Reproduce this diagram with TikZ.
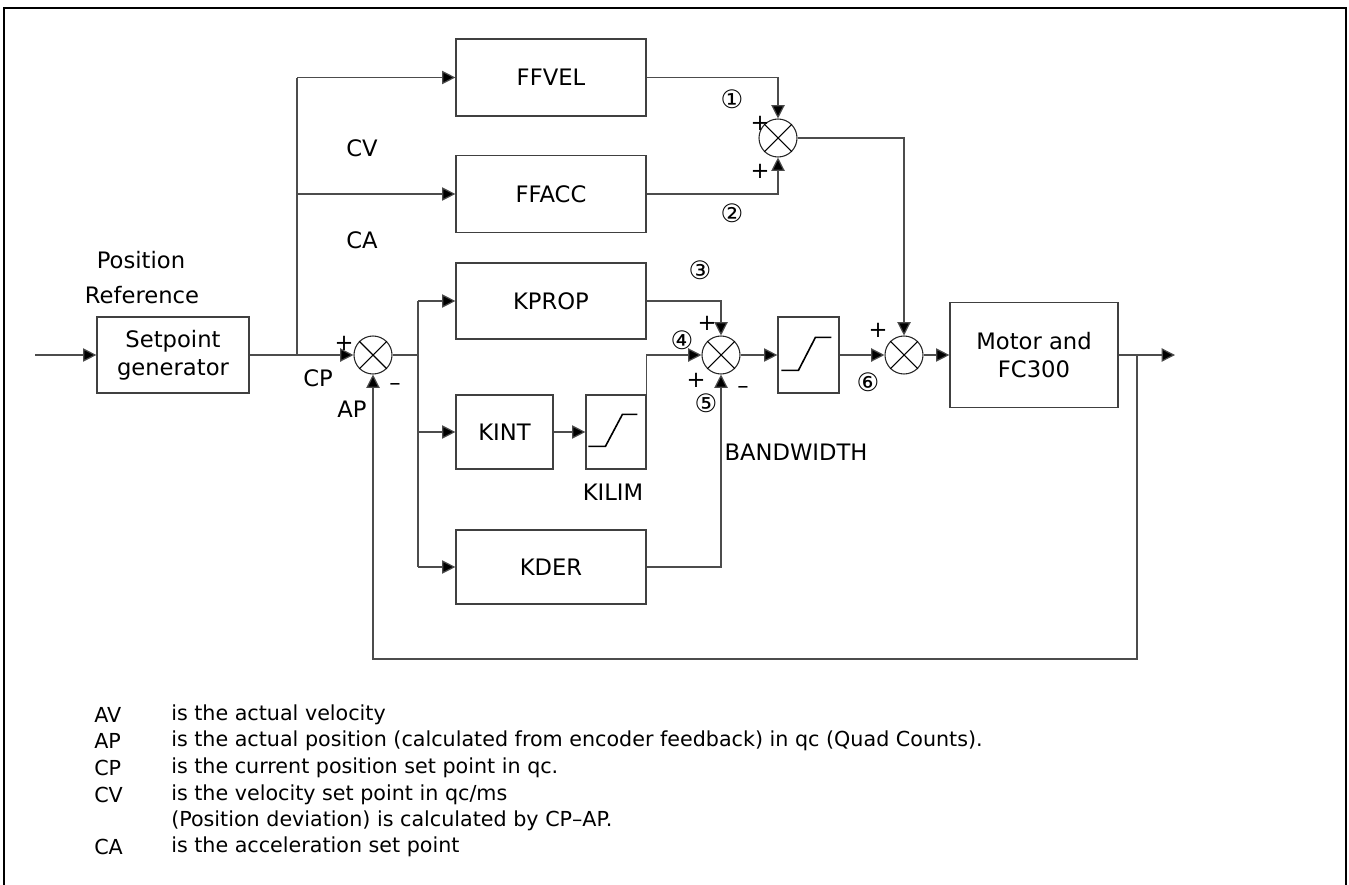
\documentclass[tikz,border=0pt]{standalone}
\usepackage{fontspec}
\setmainfont{DejaVu Sans}
\usetikzlibrary{arrows.meta}
\begin{document}
\begin{tikzpicture}[x=0.75pt,y=-0.75pt,
  ln/.style={draw=black!70, line width=0.9pt},
  arr/.style={ln, -{Triangle[length=10pt,width=10pt,fill=black]}},
  box/.style={draw=black!75, line width=0.9pt, inner sep=0pt, align=center, font=\fontsize{17}{21}\selectfont},
  sum/.style={circle, draw=black!85, line width=0.8pt, minimum size=28.5pt, inner sep=0pt},
  lbl/.style={font=\fontsize{17}{21}\selectfont, inner sep=0pt},
  num/.style={font=\fontsize{19}{22}\selectfont, inner sep=0pt},
  leg/.style={font=\fontsize{15.5}{18}\selectfont, anchor=west, inner sep=0pt}
]
\useasboundingbox (0,0) rectangle (1349,885);
\draw[line width=1pt] (4,885) -- (4,8) -- (1346,8) -- (1346,885);

% blocks
\node[box, minimum width=114pt, minimum height=57pt] (SG) at (173,355) {Setpoint\\generator};
\node[box, minimum width=142.5pt, minimum height=57.75pt] (FFVEL) at (551,77.5) {FFVEL};
\node[box, minimum width=142.5pt, minimum height=57.75pt] (FFACC) at (551,194) {FFACC};
\node[box, minimum width=142.5pt, minimum height=57pt] (KPROP) at (551,301) {KPROP};
\node[box, minimum width=72.75pt, minimum height=55.5pt] (KINT) at (504.5,432) {KINT};
\node[box, minimum width=45pt, minimum height=55.5pt] (KILIM) at (616,432) {};
\node[box, minimum width=142.5pt, minimum height=55.5pt] (KDER) at (551,567) {KDER};
\node[box, minimum width=45.75pt, minimum height=57pt] (L2) at (808.5,355) {};
\node[box, minimum width=126pt, minimum height=78.75pt] (MOT) at (1034,355) {Motor and\\FC300};

% limiter curves
\draw[line width=1.2pt] ([shift={(3,52)}]KILIM.north west) -- ++(17,0) -- ++(17,-32) -- ++(15,0);
\draw[line width=1.2pt] ([shift={(4,54)}]L2.north west) -- ++(17,0) -- ++(17,-33) -- ++(16,0);

% summing junctions
\foreach \n/\x/\y in {S1/778/138, S2/373/355, S3/721/355, S4/904/355}{
  \node[sum] (\n) at (\x,\y) {};
  \draw[line width=0.8pt] (\n.north west) -- (\n.south east) (\n.north east) -- (\n.south west);
}

% coordinates
\coordinate (in) at (35,355);
\coordinate (split) at (297,355);
\coordinate (topv) at (297,77.5);
\coordinate (midv) at (297,194);
\coordinate (b1) at (418,301);
\coordinate (b2) at (418,432);
\coordinate (b3) at (418,567);
\coordinate (b0) at (418,355);
\coordinate (out) at (1175,355);
\coordinate (tap) at (1137,355);
\coordinate (fb) at (1137,659);

% connectors
\draw[arr] (in) -- (SG.west);
\draw[ln] (SG.east) -- (split);
\draw[ln] (split) -- (topv);
\draw[arr] (topv) -- (FFVEL.west);
\draw[arr] (midv) -- (FFACC.west);
\draw[arr] (split) -- (S2.west);
\draw[arr] (FFVEL.east) -| (S1.north);
\draw[arr] (FFACC.east) -| (S1.south);
\draw[arr] (S1.east) -| (S4.north);
\draw[ln] (S2.east) -- (b0);
\draw[ln] (b1) -- (b3);
\draw[arr] (b1) -- (KPROP.west);
\draw[arr] (b2) -- (KINT.west);
\draw[arr] (b3) -- (KDER.west);
\draw[arr] (KINT.east) -- (KILIM.west);
\draw[arr] (KPROP.east) -| (S3.north);
\draw[arr] (KILIM.north east) |- (S3.west);
\draw[arr] (KDER.east) -| (S3.south);
\draw[arr] (S3.east) -- (L2.west);
\draw[arr] (L2.east) -- (S4.west);
\draw[arr] (S4.east) -- (MOT.west);
\draw[arr] (MOT.east) -- (out);
\draw[arr] (tap) -- (fb) -| (S2.south);

% labels
\node[lbl] at (141,260) {Position};
\node[lbl] at (142,295) {Reference};
\node[lbl] at (362,148) {CV};
\node[lbl] at (362,240) {CA};
\node[lbl] at (318,378) {CP};
\node[lbl] at (352,409) {AP};
\node[lbl] at (344,343) {+};
\node[lbl] at (395,387) {–};
\node[lbl] at (760,123) {+};
\node[lbl] at (760,171) {+};
\node[lbl] at (707,323) {+};
\node[lbl] at (696,380) {+};
\node[lbl] at (743,390) {–};
\node[lbl] at (878,330) {+};
\node[lbl] at (613,492) {KILIM};
\node[lbl] at (796,452) {BANDWIDTH};
\node[num] at (732,99) {①};
\node[num] at (732,213) {②};
\node[num] at (700,270) {③};
\node[num] at (682,340) {④};
\node[num] at (706,403) {⑤};
\node[num] at (868,382) {⑥};

% legend
\node[leg] (lA1) at (94,715) {AV};
\node[leg] (lB1) at (171,715) {is the actual velocity};
\node[leg] (lA2) at (94,741) {AP};
\node[leg] (lB2) at (171,741) {is the actual position (calculated from encoder feedback) in qc (Quad Counts).};
\node[leg] (lA3) at (94,768) {CP};
\node[leg] (lB3) at (171,768) {is the current position set point in qc.};
\node[leg] (lA4) at (94,795) {CV};
\node[leg] (lB4) at (171,795) {is the velocity set point in qc/ms};
\node[leg] (lB5) at (171,821) {(Position deviation) is calculated by CP–AP.};
\node[leg] (lA6) at (94,847) {CA};
\node[leg] (lB6) at (171,847) {is the acceleration set point};
\end{tikzpicture}
\end{document}
